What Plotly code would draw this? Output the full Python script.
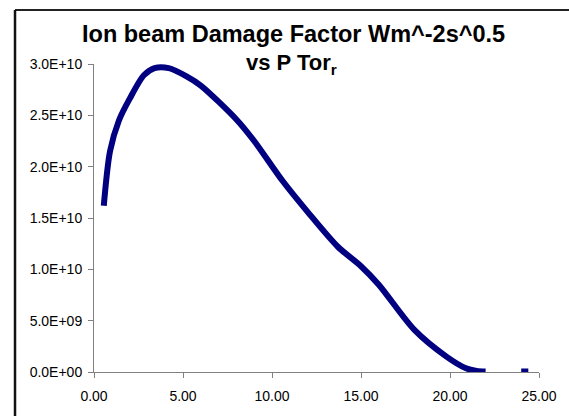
import plotly.graph_objects as go

pressure = [0.55, 0.9, 1.4, 2.0, 2.8, 3.4, 4.2, 5.2, 6.0, 8.0, 9.0, 10.6, 12.0, 13.7, 15.0, 16.0, 18.0, 19.8, 20.9, 21.5, 22.0, None, 24.0, 24.4]
damage = [16.2e9, 21.5e9, 24.5e9, 26.6e9, 28.9e9, 29.6e9, 29.6e9, 28.8e9, 27.9e9, 24.6e9, 22.5e9, 18.6e9, 15.6e9, 12.2e9, 10.3e9, 8.5e9, 4.1e9, 1.5e9, 0.36e9, 0.1e9, 0.05e9, None, 0.05e9, 0.05e9]

y_ticks = [0, 5e9, 1e10, 1.5e10, 2e10, 2.5e10, 3e10]
y_tick_text = ["0.0E+00", "5.0E+09", "1.0E+10", "1.5E+10", "2.0E+10", "2.5E+10", "3.0E+10"]
x_ticks = [0, 5, 10, 15, 20, 25]
x_tick_text = ["0.00", "5.00", "10.00", "15.00", "20.00", "25.00"]

title_line1 = "Ion beam Damage Factor Wm^-2s^0.5"
title_line2 = "vs P Tor<sub>r</sub>"

fig = go.Figure()
fig.add_trace(go.Scatter(
    x=pressure, y=damage, mode="lines",
    line=dict(color="#000080", width=6, shape="spline", smoothing=0.8),
    connectgaps=False, showlegend=False, hoverinfo="skip",
))

font_family = "Arial, Liberation Sans, sans-serif"
axis_font = dict(family=font_family, size=14, color="#000")
fig.update_layout(
    width=569, height=416,
    margin=dict(l=94, r=13, t=64, b=44),
    paper_bgcolor="white", plot_bgcolor="white",
    xaxis=dict(
        range=[0, 25], tickvals=x_ticks, ticktext=x_tick_text,
        showgrid=False, zeroline=False, showline=True, linecolor="#808080", linewidth=1,
        ticks="outside", ticklen=5, tickcolor="#808080", tickfont=axis_font,
        ticklabelstandoff=6, ticklabeloverflow="allow",
    ),
    yaxis=dict(
        range=[0, 3e10], tickvals=y_ticks, ticktext=y_tick_text,
        showgrid=False, zeroline=False, showline=True, linecolor="#808080", linewidth=1,
        ticks="outside", ticklen=5, tickcolor="#808080", tickfont=axis_font,
        ticklabelstandoff=3, ticklabeloverflow="allow",
    ),
    annotations=[
        dict(text=title_line1, xref="paper", yref="paper", x=0.448, y=1.098,
             xanchor="center", yanchor="middle", showarrow=False,
             font=dict(family=font_family, size=23.5, color="#000", weight="bold")),
        dict(text=title_line2, xref="paper", yref="paper", x=0.444, y=1.001,
             xanchor="center", yanchor="middle", showarrow=False,
             font=dict(family=font_family, size=22, color="#000", weight="bold")),
    ],
    shapes=[
        dict(type="line", xref="paper", yref="paper", x0=-0.1775, x1=1.2, y0=1.175, y1=1.175,
             line=dict(color="#222", width=2)),
        dict(type="line", xref="paper", yref="paper", x0=-0.1775, x1=-0.1775, y0=1.175, y1=-0.3,
             line=dict(color="#111", width=2.5)),
    ],
)

fig.write_html("out.html")
